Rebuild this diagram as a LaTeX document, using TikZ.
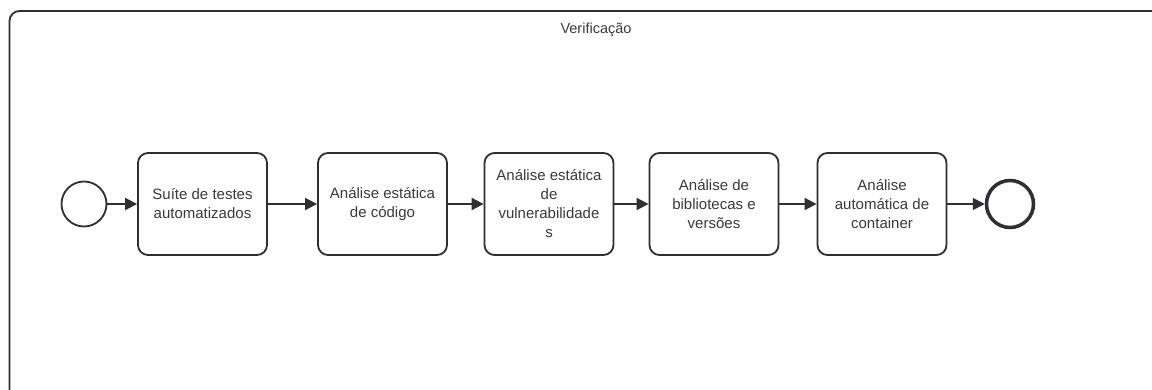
\documentclass[tikz,border=0pt]{standalone}
\usepackage{fontspec}
\setmainfont{Liberation Sans}
\usetikzlibrary{arrows.meta}
\definecolor{ln}{HTML}{2E2E33}
\definecolor{tx}{HTML}{3A3A3A}
\tikzset{
  task/.style={draw=ln, line width=1.8pt, rounded corners=10pt, minimum width=129pt, minimum height=102pt, inner sep=0pt, align=center, font=\fontsize{15}{19}\selectfont, text=tx, fill=white},
  flow/.style={draw=ln, line width=1.8pt, -{Triangle[length=12pt,width=12pt]}},
  startev/.style={draw=ln, line width=1.8pt, circle, minimum size=45pt, inner sep=0pt},
  endev/.style={draw=ln, line width=3.5pt, circle, minimum size=47pt, inner sep=0pt},
}
\begin{document}
\begin{tikzpicture}[x=1pt,y=-1pt]
\useasboundingbox (0,0) rectangle (1152,389);
\fill[white] (0,0) rectangle (1152,389);
\begin{scope}
\clip (0,0) rectangle (1152,389);
\draw[ln, line width=1.8pt, rounded corners=10pt] (9.5,400) -- (9.5,11) -- (1175,11);
\end{scope}
\node[text=tx, font=\fontsize{14.5}{17}\selectfont] (title) at (596,30) {Verificação};
\node[startev] (start) at (84,204) {};
\node[task] (t1) at (202.5,204) {Suíte de testes\\automatizados};
\node[task] (t2) at (382.5,204) {Análise estática\\de código};
\node[task] (t3) at (549,204) {Análise estática\\de\\vulnerabilidade\\s};
\node[task] (t4) at (714,204) {Análise de\\bibliotecas e\\versões};
\node[task] (t5) at (882,204) {Análise\\automática de\\container};
\node[endev] (end) at (1010,204) {};
\draw[flow] (start) -- (t1);
\draw[flow] (t1) -- (t2);
\draw[flow] (t2) -- (t3);
\draw[flow] (t3) -- (t4);
\draw[flow] (t4) -- (t5);
\draw[flow] (t5) -- (end);
\end{tikzpicture}
\end{document}
